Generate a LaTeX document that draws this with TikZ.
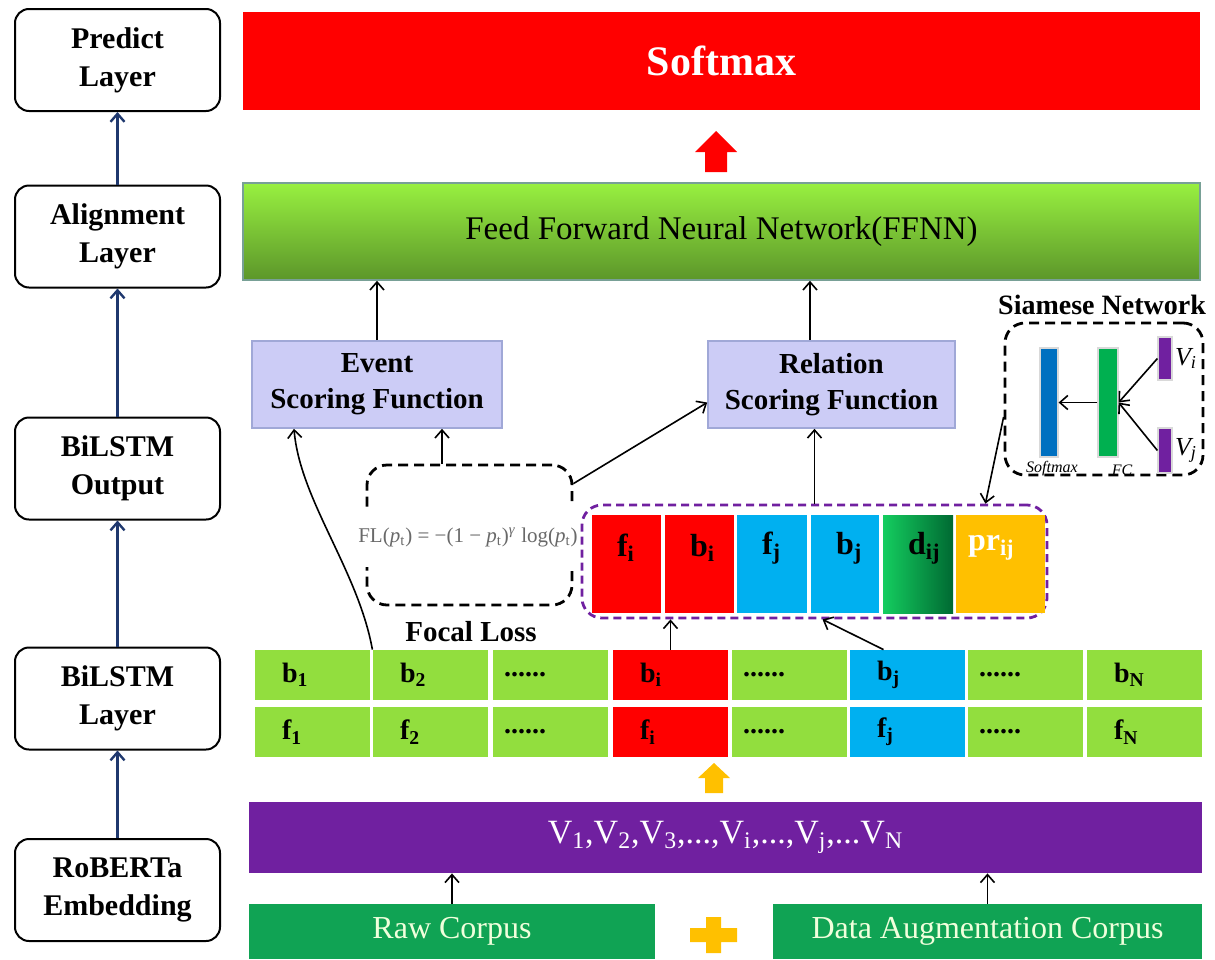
\documentclass[tikz,border=0pt]{standalone}
\usepackage{fontspec}
\setmainfont{Liberation Serif}
\usetikzlibrary{arrows.meta}

\definecolor{sred}{RGB}{255,0,0}
\definecolor{lgreen}{RGB}{146,222,62}
\definecolor{cblue}{RGB}{0,176,240}
\definecolor{gold}{RGB}{255,192,0}
\definecolor{vpurple}{RGB}{112,32,160}
\definecolor{cgreen}{RGB}{16,163,84}
\definecolor{lav}{RGB}{204,204,246}
\definecolor{lavline}{RGB}{160,168,215}
\definecolor{navy}{RGB}{31,56,110}
\definecolor{ffntop}{RGB}{152,240,64}
\definecolor{ffnbot}{RGB}{92,150,42}
\definecolor{ffnline}{RGB}{120,160,150}
\definecolor{dgreenA}{RGB}{20,205,95}
\definecolor{dgreenB}{RGB}{0,105,50}
\definecolor{sblue}{RGB}{0,112,192}
\definecolor{sgreen}{RGB}{0,176,80}

\tikzset{
  layer/.style={draw=black, line width=1pt, rounded corners=7pt, minimum width=102.5pt,
    minimum height=51pt, align=center, font=\bfseries\fontsize{15}{19}\selectfont},
  uparrow/.style={-{Straight Barb[length=4pt,width=7pt]}, draw=navy, line width=1.2pt},
  arr/.style={-{Straight Barb[length=4pt,width=7pt]}, line width=0.8pt},
  score/.style={draw=lavline, line width=0.8pt, fill=lav, minimum height=43.5pt, align=center,
    font=\bfseries\fontsize{14.5}{18}\selectfont},
  dashbox/.style={draw=black, line width=1.4pt, dash pattern=on 5pt off 3pt, rounded corners=10pt},
  lstm/.style={fill=lgreen, minimum height=25pt, inner xsep=13.5pt, text width=30.5pt, align=left,
    font=\bfseries\fontsize{14}{14}\selectfont},
  lstmdots/.style={lstm, inner xsep=5.5pt, text width=46.5pt},
  vcell/.style={minimum height=49pt, inner sep=0pt},
  vlab/.style={anchor=west, inner sep=0pt, font=\bfseries\fontsize{16}{16}\selectfont},
  bar/.style={draw=white!70!gray, line width=0.6pt, inner sep=0pt},
  corpus/.style={fill=cgreen, minimum height=27.5pt, text={rgb,255:red,240;green,255;blue,220},
    font=\fontsize{16}{16}\selectfont}
}

\begin{document}
\begin{tikzpicture}[x=0.5pt,y=-0.5pt]
    \useasboundingbox (0,0) rectangle (1215,959);

    % left column
    \node[layer] (pred) at (117.5,60) {Predict\\Layer};
    \node[layer] (align) at (117.5,236.5) {Alignment\\Layer};
    \node[layer] (bout) at (117.5,468.5) {BiLSTM\\Output};
    \node[layer] (blay) at (117.5,698.5) {BiLSTM\\Layer};
    \node[layer] (emb) at (117.5,890) {RoBERTa\\Embedding};
    \draw[uparrow] (emb) -- (blay);
    \draw[uparrow] (blay) -- (bout);
    \draw[uparrow] (bout) -- (align);
    \draw[uparrow] (align) -- (pred);

    % top
    \node[fill=sred, minimum width=478.5pt, minimum height=49pt, text=white,
      font=\bfseries\fontsize{21}{21}\selectfont] (soft) at (721.5,61) {Softmax};
    \fill[sred] (716,131) -- (737,152) -- (727,152) -- (727,172) -- (705,172) -- (705,152) -- (695,152) -- cycle;
    \node[draw=ffnline, line width=0.8pt, top color=ffntop, bottom color=ffnbot, minimum width=478.5pt,
      minimum height=48.5pt, font=\fontsize{16.5}{16.5}\selectfont] (ffnn) at (721.5,231.5) {Feed Forward Neural Network(FFNN)};

    \node[score, minimum width=125pt] (event) at (377,384.5) {Event\\Scoring Function};
    \node[score, minimum width=123.5pt] (relation) at (831.5,384.5) {Relation\\Scoring Function};
    \draw[arr] (event.north) -- (event.north |- ffnn.south);
    \draw[arr] ([xshift=-10.75pt]relation.north) -- ([xshift=-10.75pt]relation.north |- ffnn.south);

    % focal loss
    \node[dashbox, minimum width=102.5pt, minimum height=70pt] (focal) at (469.5,535) {};
    \node[fill=white, minimum height=30pt, inner xsep=1pt, text={rgb,255:red,105;green,105;blue,105},
      font=\fontsize{10.5}{10.5}\selectfont] (fl) at (468,537)
      {FL(\textit{p}\textsubscript{t}) = −(1 − \textit{p}\textsubscript{t})\textsuperscript{\textit{γ}} log(\textit{p}\textsubscript{t})};
    \node[font=\bfseries\fontsize{14.5}{14.5}\selectfont] (fltxt) at (471,632) {Focal Loss};
    \draw[arr] ([xshift=-13.75pt]focal.north) -- ([xshift=-13.75pt]focal.north |- event.south);
    \draw[arr] ([yshift=-10pt]focal.north east) -- ([yshift=-9pt]relation.west);

    % pair vector
    \node[draw=vpurple, line width=1.4pt, dash pattern=on 4pt off 2.5pt, rounded corners=10pt,
      minimum width=232.5pt, minimum height=56.5pt] (vec) at (814.5,561.5) {};
    \node[vcell, fill=sred, minimum width=34.5pt] (vfi) at (626.5,564) {};
    \node[vcell, fill=sred, minimum width=34.5pt] (vbi) at (699.5,564) {};
    \node[vcell, fill=cblue, minimum width=35pt] (vfj) at (772,564) {};
    \node[vcell, fill=cblue, minimum width=34pt] (vbj) at (845,564) {};
    \node[vcell, left color=dgreenA, right color=dgreenB, minimum width=35pt] (vdij) at (918,564) {};
    \node[vcell, fill=gold, minimum width=44.5pt] (vprij) at (1000.5,564) {};
    \node[vlab] at ([xshift=12.5pt,yshift=8pt]vfi.west) {f\textsubscript{i}};
    \node[vlab] at ([xshift=12.5pt,yshift=8pt]vbi.west) {b\textsubscript{i}};
    \node[vlab] at ([xshift=12.5pt,yshift=8pt]vfj.west) {f\textsubscript{j}};
    \node[vlab] at ([xshift=12.5pt,yshift=8pt]vbj.west) {b\textsubscript{j}};
    \node[vlab] at ([xshift=12.5pt,yshift=8pt]vdij.west) {d\textsubscript{ij}};
    \node[vlab, text=white] at ([xshift=6pt,yshift=8pt]vprij.west) {pr\textsubscript{ij}};
    \draw[arr] (vec.north) -- (vec.north |- relation.south);

    % siamese network
    \node[dashbox, minimum width=99pt, minimum height=76pt] (siam) at (1104,399) {};
    \node[font=\bfseries\fontsize{14}{14}\selectfont] (siamtxt) at (1102,305) {Siamese Network};
    \node[bar, fill=sblue, minimum width=9pt, minimum height=54.5pt] (sm) at (1049,402.5) {};
    \node[bar, fill=sgreen, minimum width=10pt, minimum height=54.5pt] (fc) at (1108,402.5) {};
    \node[bar, fill=vpurple, minimum width=7pt, minimum height=21.5pt] (vi) at (1165,358.5) {};
    \node[bar, fill=vpurple, minimum width=7pt, minimum height=22.5pt] (vj) at (1165,450.5) {};
    \node[anchor=west, inner sep=1pt, font=\itshape\fontsize{13}{13}\selectfont] (vitxt) at (vi.east) {V\textsubscript{i}};
    \node[anchor=west, inner sep=1pt, font=\itshape\fontsize{13}{13}\selectfont] (vjtxt) at (vj.east) {V\textsubscript{j}};
    \node[font=\itshape\fontsize{8}{8}\selectfont] (smtxt) at (1052,469) {Softmax};
    \node[font=\itshape\fontsize{8}{8}\selectfont] (fctxt) at (1122,470) {FC};
    \draw[arr] (vi.west) -- (fc.east);
    \draw[arr] (vj.west) -- (fc.east);
    \draw[arr] (fc.west) -- (sm.east);
    \draw[arr] ([yshift=-9pt]siam.west) -- ([xshift=-31.5pt]vec.north east);

    % bilstm rows
    \node[lstm] (b1) at (312.5,675) {b\textsubscript{1}};
    \node[lstm] (b2) at (430.5,675) {b\textsubscript{2}};
    \node[lstmdots] (b3) at (550.5,675) {......};
    \node[lstm, fill=sred] (bi) at (670.5,675) {b\textsubscript{i}};
    \node[lstmdots] (b5) at (789.5,675) {......};
    \node[lstm, fill=cblue] (bj) at (907.5,675) {b\textsubscript{j}};
    \node[lstmdots] (b7) at (1025.5,675) {......};
    \node[lstm] (bn) at (1144.5,675) {b\textsubscript{N}};
    \node[lstm] (f1) at (312.5,732) {f\textsubscript{1}};
    \node[lstm] (f2) at (430.5,732) {f\textsubscript{2}};
    \node[lstmdots] (f3) at (550.5,732) {......};
    \node[lstm, fill=sred] (fi) at (670.5,732) {f\textsubscript{i}};
    \node[lstmdots] (f5) at (789.5,732) {......};
    \node[lstm, fill=cblue] (fj) at (907.5,732) {f\textsubscript{j}};
    \node[lstmdots] (f7) at (1025.5,732) {......};
    \node[lstm] (fn) at (1144.5,732) {f\textsubscript{N}};
    \draw[arr] (bi.north) -- (bi.north |- vec.south);
    \draw[arr] ([xshift=-12pt]bj.north) -- ([xshift=4pt]vec.south);
    \draw[arr] ([xshift=1pt]b1.north east) .. controls (358,570) and (300,500) .. ([xshift=-41.5pt]event.south);

    % embedding and corpus
    \fill[gold] (714,763) -- (730,778) -- (723,778) -- (723,793) -- (705,793) -- (705,778) -- (698,778) -- cycle;
    \node[fill=vpurple, minimum width=476.5pt, minimum height=35.5pt, text=white,
      font=\fontsize{17}{17}\selectfont] (vseq) at (725.5,837.5)
      {V\textsubscript{1},V\textsubscript{2},V\textsubscript{3},...,V\textsubscript{i},...,V\textsubscript{j},...V\textsubscript{N}};
    \node[corpus, minimum width=203pt] (raw) at (452,931.5) {Raw Corpus};
    \node[corpus, minimum width=214.5pt] (aug) at (987.5,931.5) {Data Augmentation Corpus};
    \fill[gold] (706,917) rectangle (721,953) (690,928) rectangle (737,942);
    \draw[arr] (raw.north) -- (raw.north |- vseq.south);
    \draw[arr] (aug.north) -- (aug.north |- vseq.south);
\end{tikzpicture}
\end{document}
